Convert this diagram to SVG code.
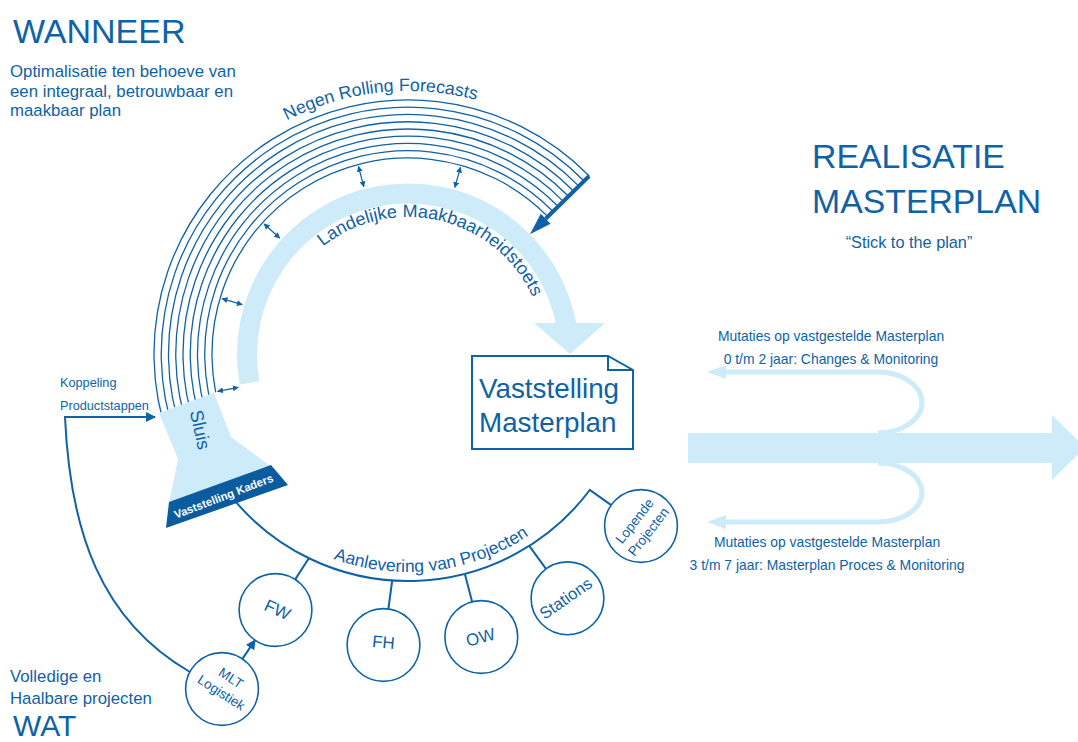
<svg xmlns="http://www.w3.org/2000/svg" width="1078" height="742" viewBox="0 0 1078 742">
<style>
text{font-family:"Liberation Sans",Arial,sans-serif;fill:#0f62a6}
.thin{fill:none;stroke:#0f62a6;stroke-width:1.3}
.ln{fill:none;stroke:#0f62a6;stroke-width:2}
.circ{fill:#fff;stroke:#0f62a6;stroke-width:1.6}
.light{fill:#cdebf8}
.lstroke{fill:none;stroke:#cdebf8}
.dbl{fill:none;stroke:#0f62a6;stroke-width:1.2;marker-start:url(#sa);marker-end:url(#sa)}
</style>
<defs>
<marker id="sa" viewBox="0 0 10 10" refX="9" refY="5" markerWidth="6" markerHeight="6" markerUnits="userSpaceOnUse" orient="auto-start-reverse"><path d="M0,0 L10,5 L0,10 Z" fill="#0f62a6"/></marker>
<marker id="ah" viewBox="0 0 10 10" refX="9" refY="5" markerWidth="10" markerHeight="10" markerUnits="userSpaceOnUse" orient="auto"><path d="M0,0 L10,5 L0,10 Z" fill="#0f62a6"/></marker>
<clipPath id="arcclip"><polygon points="0,0 700,0 700,216.3 0,470.8"/></clipPath>
<path id="pNegen" d="M 286.97 120.5 A 263 263 0 0 1 609.47 184.95"/>
<path id="pLand" d="M 322.91 246.63 A 137 137 0 0 1 542.92 377.79"/>
<path id="pAanl" d="M 333.44 558.85 A 218 218 0 0 0 575 494.13"/>
</defs>

<g id="connectors">
  <g clip-path="url(#arcclip)">
    <path class="thin" d="M223.82 421.04 A196 196 0 0 1 547.81 216.62"/>
    <path class="thin" d="M217.0 423.51 A203.25 203.25 0 0 1 552.98 211.54"/>
    <path class="thin" d="M210.19 425.99 A210.5 210.5 0 0 1 558.15 206.46"/>
    <path class="thin" d="M203.38 428.47 A217.75 217.75 0 0 1 563.32 201.38"/>
    <path class="thin" d="M196.57 430.95 A225 225 0 0 1 568.49 196.30"/>
    <path class="thin" d="M189.76 433.43 A232.25 232.25 0 0 1 573.66 191.22"/>
    <path class="thin" d="M182.94 435.91 A239.5 239.5 0 0 1 578.84 186.13"/>
    <path class="thin" d="M176.13 438.39 A246.75 246.75 0 0 1 584.01 181.05"/>
    <path class="thin" d="M169.32 440.87 A254 254 0 0 1 589.18 175.97"/>
  </g>
  <line x1="589.18" y1="175.97" x2="545.66" y2="218.72" stroke="#0f62a6" stroke-width="4"/>
  <polygon points="550.57,223.71 540.75,213.73 529.97,234.14" fill="#0f62a6"/>
  <path class="lstroke" stroke-width="20" d="M249.59 382.79 A161 161 0 0 1 566.55 326.04"/>
  <polygon class="light" points="534,323 605,323 570,354"/>
  <line class="dbl" x1="358.45" y1="166.44" x2="363.82" y2="186.74"/>
  <line class="dbl" x1="460.5" y1="167.24" x2="454.81" y2="187.45"/>
  <line class="dbl" x1="264.09" y1="223.94" x2="279.67" y2="238.02"/>
  <line class="dbl" x1="222.09" y1="298.57" x2="242.21" y2="304.57"/>
  <line class="dbl" x1="217.63" y1="391.35" x2="238.24" y2="387.30"/>
  <path class="ln" d="M234.1 499.9 A227 227 0 0 0 589.77 489.98 L611.2 505.1"/>
  <line class="ln" x1="308.85" y1="558.2" x2="295.2" y2="579.4"/>
  <line class="ln" x1="392.2" y1="580.5" x2="388.4" y2="608.9"/>
  <line class="ln" x1="464.8" y1="573.8" x2="472.1" y2="601.8"/>
  <line class="ln" x1="529.3" y1="545.9" x2="546.0" y2="568.9"/>
  <line class="ln" x1="242.4" y1="658.9" x2="255.1" y2="640.1" marker-end="url(#ah)"/>
  <path class="ln" d="M190 672 C100 620 70 530 65 417 L155 417" marker-end="url(#ah)"/>
  <rect class="light" x="688" y="433" width="366" height="30"/>
  <polygon class="light" points="1052,415 1085,447.5 1052,480"/>
  <path class="lstroke" stroke-width="5" d="M722 372 H878 A44 30.5 0 0 1 878 433"/>
  <path class="lstroke" stroke-width="5" d="M878 463 A44 29.5 0 0 1 878 522 H722"/>
  <polygon class="light" points="707,372 726,365 726,379"/>
  <polygon class="light" points="707,522 726,515 726,529"/>
</g>

<g id="labels-arcs">
  <text font-size="17.8"><textPath href="#pNegen">Negen Rolling Forecasts</textPath></text>
  <text font-size="18"><textPath href="#pLand">Landelijke Maakbaarheidstoets</textPath></text>
  <text font-size="17.5"><textPath href="#pAanl">Aanlevering van Projecten</textPath></text>
</g>

<g id="wanneer">
  <text x="13" y="43" font-size="34">WANNEER</text>
  <text font-size="16.8"><tspan x="10" y="77">Optimalisatie ten behoeve van</tspan><tspan x="10" y="97">een integraal, betrouwbaar en</tspan><tspan x="10" y="116">maakbaar plan</tspan></text>
</g>

<g id="realisatie">
  <text x="812" y="168" font-size="33.8">REALISATIE</text>
  <text x="812" y="213" font-size="33.8">MASTERPLAN</text>
  <text x="909" y="248" font-size="16.3" text-anchor="middle">“Stick to the plan”</text>
</g>

<g id="wat">
  <text font-size="16.8"><tspan x="10" y="682">Volledige en</tspan><tspan x="10" y="704">Haalbare projecten</tspan></text>
  <text x="13" y="735.5" font-size="30">WAT</text>
</g>

<g id="koppeling">
  <text font-size="12.7"><tspan x="60" y="387">Koppeling</tspan><tspan x="60" y="410">Productstappen</tspan></text>
</g>

<g id="sluis">
  <polygon class="light" points="159,413 214,393 231,437 270,466 169,503 178,459"/>
  <text font-size="18.5" text-anchor="middle" transform="translate(194,431) rotate(78)">Sluis</text>
</g>

<g id="vaststelling-kaders">
  <polygon points="169,502 271,465 288,485 166,528" fill="#0b5c9e"/>
  <text font-size="11.4" font-weight="bold" text-anchor="middle" style="fill:#fff" transform="translate(225,500) rotate(-21)">Vaststelling Kaders</text>
</g>

<g id="vaststelling-masterplan">
  <path d="M472 356 H608 L633 370 V449 H472 Z" fill="#fff" stroke="#0f62a6" stroke-width="2"/>
  <path d="M608 356 V370 H633" fill="none" stroke="#0f62a6" stroke-width="2"/>
  <text font-size="27.8"><tspan x="479" y="398">Vaststelling</tspan><tspan x="479" y="432">Masterplan</tspan></text>
</g>

<g id="mutaties">
  <text font-size="13.9" text-anchor="middle"><tspan x="831" y="341">Mutaties op vastgestelde Masterplan</tspan><tspan x="831" y="364">0 t/m 2 jaar: Changes &amp; Monitoring</tspan></text>
  <text font-size="13.9" text-anchor="middle"><tspan x="827" y="547">Mutaties op vastgestelde Masterplan</tspan><tspan x="827" y="570">3 t/m 7 jaar: Masterplan Proces &amp; Monitoring</tspan></text>
</g>

<g id="node-fw">
  <circle class="circ" cx="275.5" cy="610" r="36.4"/>
  <text font-size="17" text-anchor="middle" transform="translate(275,615) rotate(25)">FW</text>
</g>
<g id="node-fh">
  <circle class="circ" cx="383.5" cy="645" r="36.4"/>
  <text font-size="17" text-anchor="middle" transform="translate(383,648) rotate(5)">FH</text>
</g>
<g id="node-ow">
  <circle class="circ" cx="481.3" cy="637" r="36.4"/>
  <text font-size="17" text-anchor="middle" transform="translate(482,643) rotate(-15)">OW</text>
</g>
<g id="node-stations">
  <circle class="circ" cx="567.5" cy="598.3" r="36.4"/>
  <text font-size="16.5" text-anchor="middle" transform="translate(569,603) rotate(-35)">Stations</text>
</g>
<g id="node-lopende">
  <circle class="circ" cx="641" cy="526" r="36.4"/>
  <text font-size="13.5" text-anchor="middle" transform="translate(641,526) rotate(-52)"><tspan x="0" y="-3.5">Lopende</tspan><tspan x="0" y="14">Projecten</tspan></text>
</g>
<g id="node-mlt">
  <circle class="circ" cx="222" cy="689" r="36.4"/>
  <text font-size="13.5" text-anchor="middle" transform="translate(222,689) rotate(33)"><tspan x="1.5" y="-9.5">MLT</tspan><tspan x="1.5" y="8">Logistiek</tspan></text>
</g>
</svg>
